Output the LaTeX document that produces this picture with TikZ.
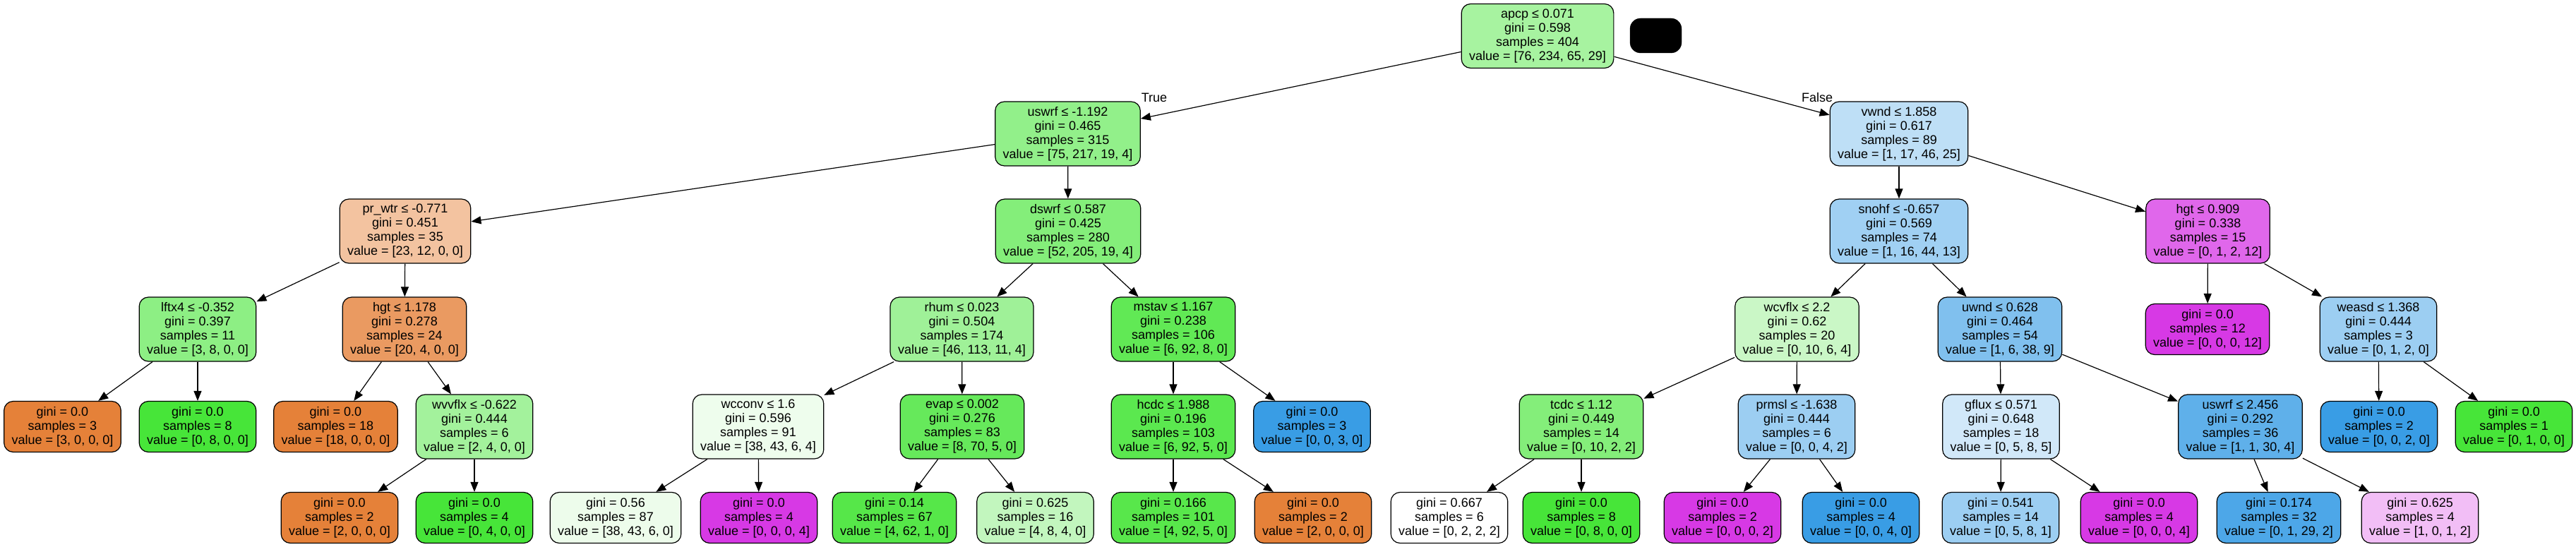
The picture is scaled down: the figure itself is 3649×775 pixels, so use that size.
\documentclass[tikz,border=0pt]{standalone}
\usepackage{fontspec}
\setmainfont{Liberation Sans}
\usetikzlibrary{arrows.meta}
\definecolor{cO}{RGB}{229,129,57}
\definecolor{cG}{RGB}{71,229,57}
\definecolor{cB}{RGB}{57,157,229}
\definecolor{cM}{RGB}{215,57,229}
\newcommand\dtfont{\fontsize{18}{20}\selectfont}
\tikzset{
  tn/.style={draw=black, line width=1.2pt, rounded corners=13pt, align=center,
    inner xsep=11pt, inner ysep=0pt, font=\dtfont, minimum height=91pt},
  lf/.style={tn, minimum height=72pt},
  ed/.style={-{Triangle[length=14pt,width=11pt]}, line width=1.2pt},
  elab/.style={font=\dtfont, inner sep=0pt}
}
\begin{document}
\begin{tikzpicture}[x=1pt,y=1pt]
\useasboundingbox (0,0) rectangle (3649,-775);
% row 0
\node[tn, fill=cG!48!white] (n0) at (2178,-51) {apcp ≤ 0.071\\gini = 0.598\\samples = 404\\value = [76, 234, 65, 29]};
\node[fill=black, draw=black, rounded corners=15pt, minimum width=73pt, minimum height=49pt, inner sep=0pt] (blk) at (2345.5,-50.5) {};
% row 1
\node[tn, fill=cG!59!white] (n1) at (1512.5,-189.5) {uswrf ≤ -1.192\\gini = 0.465\\samples = 315\\value = [75, 217, 19, 4]};
\node[tn, fill=cB!33!white] (n2) at (2690,-189.5) {vwnd ≤ 1.858\\gini = 0.617\\samples = 89\\value = [1, 17, 46, 25]};
% row 2
\node[tn, fill=cO!48!white] (n3) at (574,-327.5) {pr\_wtr ≤ -0.771\\gini = 0.451\\samples = 35\\value = [23, 12, 0, 0]};
\node[tn, fill=cG!67!white] (n4) at (1513,-327.5) {dswrf ≤ 0.587\\gini = 0.425\\samples = 280\\value = [52, 205, 19, 4]};
\node[tn, fill=cB!48!white] (n5) at (2690,-327.5) {snohf ≤ -0.657\\gini = 0.569\\samples = 74\\value = [1, 16, 44, 13]};
\node[tn, fill=cM!77!white] (n6) at (3127.5,-327.5) {hgt ≤ 0.909\\gini = 0.338\\samples = 15\\value = [0, 1, 2, 12]};
% row 3
\node[tn, fill=cG!62!white] (n7) at (280,-466.5) {lftx4 ≤ -0.352\\gini = 0.397\\samples = 11\\value = [3, 8, 0, 0]};
\node[tn, fill=cO!80!white] (n8) at (573,-466.5) {hgt ≤ 1.178\\gini = 0.278\\samples = 24\\value = [20, 4, 0, 0]};
\node[tn, fill=cG!52!white] (n9) at (1362.5,-466.5) {rhum ≤ 0.023\\gini = 0.504\\samples = 174\\value = [46, 113, 11, 4]};
\node[tn, fill=cG!86!white] (n10) at (1662,-466.5) {mstav ≤ 1.167\\gini = 0.238\\samples = 106\\value = [6, 92, 8, 0]};
\node[tn, fill=cG!29!white] (n11) at (2545.5,-466.5) {wcvflx ≤ 2.2\\gini = 0.62\\samples = 20\\value = [0, 10, 6, 4]};
\node[tn, fill=cB!64!white] (n12) at (2833,-466.5) {uwnd ≤ 0.628\\gini = 0.464\\samples = 54\\value = [1, 6, 38, 9]};
\node[lf, fill=cM] (n13) at (3127,-466.5) {gini = 0.0\\samples = 12\\value = [0, 0, 0, 12]};
\node[tn, fill=cB!50!white] (n14) at (3369,-466.5) {weasd ≤ 1.368\\gini = 0.444\\samples = 3\\value = [0, 1, 2, 0]};
% row 4
\node[lf, fill=cO] (n15) at (88.5,-604.5) {gini = 0.0\\samples = 3\\value = [3, 0, 0, 0]};
\node[lf, fill=cG] (n16) at (280,-604.5) {gini = 0.0\\samples = 8\\value = [0, 8, 0, 0]};
\node[lf, fill=cO] (n17) at (475.5,-604.5) {gini = 0.0\\samples = 18\\value = [18, 0, 0, 0]};
\node[tn, fill=cG!50!white] (n18) at (672,-604.5) {wvvflx ≤ -0.622\\gini = 0.444\\samples = 6\\value = [2, 4, 0, 0]};
\node[tn, fill=cG!9!white] (n19) at (1074,-604.5) {wcconv ≤ 1.6\\gini = 0.596\\samples = 91\\value = [38, 43, 6, 4]};
\node[tn, fill=cG!83!white] (n20) at (1363,-604.5) {evap ≤ 0.002\\gini = 0.276\\samples = 83\\value = [8, 70, 5, 0]};
\node[tn, fill=cG!89!white] (n21) at (1662,-604.5) {hcdc ≤ 1.988\\gini = 0.196\\samples = 103\\value = [6, 92, 5, 0]};
\node[lf, fill=cB] (n22) at (1858.5,-604.5) {gini = 0.0\\samples = 3\\value = [0, 0, 3, 0]};
\node[tn, fill=cG!67!white] (n23) at (2240,-604.5) {tcdc ≤ 1.12\\gini = 0.449\\samples = 14\\value = [0, 10, 2, 2]};
\node[tn, fill=cB!50!white] (n24) at (2545,-604.5) {prmsl ≤ -1.638\\gini = 0.444\\samples = 6\\value = [0, 0, 4, 2]};
\node[tn, fill=cB!23!white] (n25) at (2834.5,-604.5) {gflux ≤ 0.571\\gini = 0.648\\samples = 18\\value = [0, 5, 8, 5]};
\node[tn, fill=cB!81!white] (n26) at (3173.5,-604.5) {uswrf ≤ 2.456\\gini = 0.292\\samples = 36\\value = [1, 1, 30, 4]};
\node[lf, fill=cB] (n27) at (3370,-604.5) {gini = 0.0\\samples = 2\\value = [0, 0, 2, 0]};
\node[lf, fill=cG] (n28) at (3561,-604.5) {gini = 0.0\\samples = 1\\value = [0, 1, 0, 0]};
% row 5
\node[lf, fill=cO] (n29) at (481,-733.5) {gini = 0.0\\samples = 2\\value = [2, 0, 0, 0]};
\node[lf, fill=cG] (n30) at (672,-733.5) {gini = 0.0\\samples = 4\\value = [0, 4, 0, 0]};
\node[lf, fill=cG!10!white] (n31) at (872,-733.5) {gini = 0.56\\samples = 87\\value = [38, 43, 6, 0]};
\node[lf, fill=cM] (n32) at (1075,-733.5) {gini = 0.0\\samples = 4\\value = [0, 0, 0, 4]};
\node[lf, fill=cG!92!white] (n33) at (1267,-733.5) {gini = 0.14\\samples = 67\\value = [4, 62, 1, 0]};
\node[lf, fill=cG!33!white] (n34) at (1466.5,-733.5) {gini = 0.625\\samples = 16\\value = [4, 8, 4, 0]};
\node[lf, fill=cG!91!white] (n35) at (1662,-733.5) {gini = 0.166\\samples = 101\\value = [4, 92, 5, 0]};
\node[lf, fill=cO] (n36) at (1860,-733.5) {gini = 0.0\\samples = 2\\value = [2, 0, 0, 0]};
\node[lf, fill=white] (n37) at (2053,-733.5) {gini = 0.667\\samples = 6\\value = [0, 2, 2, 2]};
\node[lf, fill=cG] (n38) at (2240,-733.5) {gini = 0.0\\samples = 8\\value = [0, 8, 0, 0]};
\node[lf, fill=cM] (n39) at (2440,-733.5) {gini = 0.0\\samples = 2\\value = [0, 0, 0, 2]};
\node[lf, fill=cB] (n40) at (2636,-733.5) {gini = 0.0\\samples = 4\\value = [0, 0, 4, 0]};
\node[lf, fill=cB!50!white] (n41) at (2834,-733.5) {gini = 0.541\\samples = 14\\value = [0, 5, 8, 1]};
\node[lf, fill=cM] (n42) at (3030,-733.5) {gini = 0.0\\samples = 4\\value = [0, 0, 0, 4]};
\node[lf, fill=cB!90!white] (n43) at (3228,-733.5) {gini = 0.174\\samples = 32\\value = [0, 1, 29, 2]};
\node[lf, fill=cM!33!white] (n44) at (3428,-733.5) {gini = 0.625\\samples = 4\\value = [1, 0, 1, 2]};
% edge labels
\node[elab] (lT) at (1635,-138) {True};
\node[elab] (lF) at (2574,-138) {False};
% edges
\draw[ed] (n0) -- (n1);
\draw[ed] (n0) -- (n2);
\draw[ed] (n1) -- (n3);
\draw[ed] (n1) -- (n4);
\draw[ed] (n3) -- (n7);
\draw[ed] (n3) -- (n8);
\draw[ed] (n7) -- (n15);
\draw[ed] (n7) -- (n16);
\draw[ed] (n8) -- (n17);
\draw[ed] (n8) -- (n18);
\draw[ed] (n18) -- (n29);
\draw[ed] (n18) -- (n30);
\draw[ed] (n4) -- (n9);
\draw[ed] (n4) -- (n10);
\draw[ed] (n9) -- (n19);
\draw[ed] (n9) -- (n20);
\draw[ed] (n19) -- (n31);
\draw[ed] (n19) -- (n32);
\draw[ed] (n20) -- (n33);
\draw[ed] (n20) -- (n34);
\draw[ed] (n10) -- (n21);
\draw[ed] (n10) -- (n22);
\draw[ed] (n21) -- (n35);
\draw[ed] (n21) -- (n36);
\draw[ed] (n2) -- (n5);
\draw[ed] (n2) -- (n6);
\draw[ed] (n5) -- (n11);
\draw[ed] (n5) -- (n12);
\draw[ed] (n11) -- (n23);
\draw[ed] (n11) -- (n24);
\draw[ed] (n23) -- (n37);
\draw[ed] (n23) -- (n38);
\draw[ed] (n24) -- (n39);
\draw[ed] (n24) -- (n40);
\draw[ed] (n12) -- (n25);
\draw[ed] (n12) -- (n26);
\draw[ed] (n25) -- (n41);
\draw[ed] (n25) -- (n42);
\draw[ed] (n26) -- (n43);
\draw[ed] (n26) -- (n44);
\draw[ed] (n6) -- (n13);
\draw[ed] (n6) -- (n14);
\draw[ed] (n14) -- (n27);
\draw[ed] (n14) -- (n28);
\end{tikzpicture}
\end{document}
